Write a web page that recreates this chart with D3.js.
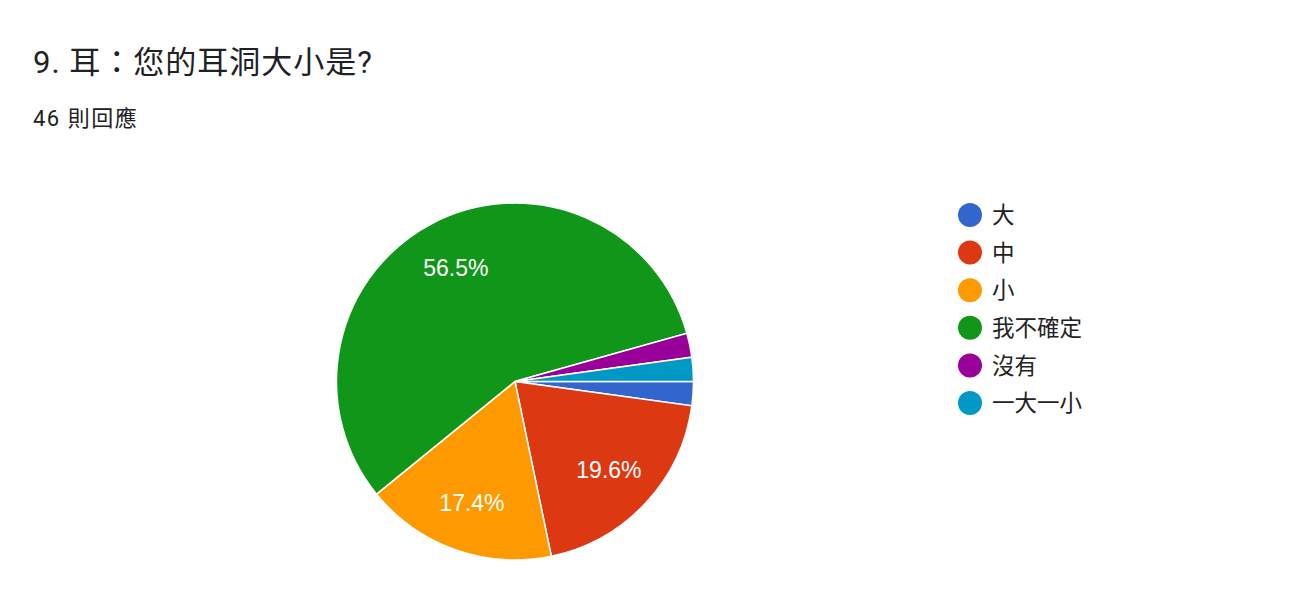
<!DOCTYPE html>
<html><head><meta charset="utf-8">
<script src="https://cdn.jsdelivr.net/npm/d3@7"></script>
<style>
body{margin:0;background:#fff;}
svg{display:block;}
</style></head>
<body>
<svg id="c" width="1297" height="606"></svg>
<script>
const categories = ["大","中","小","我不確定","沒有","一大一小"];
const counts = [1,9,8,26,1,1];
const colors = ["#3366cc","#dc3912","#ff9900","#109618","#990099","#0099c6"];
const title = "9. 耳：您的耳洞大小是?";
const subtitle = "46 則回應";

const svg = d3.select("#c");
const font = "Roboto, 'Noto Sans CJK TC', sans-serif";
svg.append("text").attr("x",33).attr("y",73).attr("font-family",font).attr("font-size",31).attr("letter-spacing",1).attr("fill","#202124").text(title);
svg.append("text").attr("x",33).attr("y",126).attr("font-family",font).attr("font-size",22).attr("letter-spacing",1.5).attr("fill","#202124").attr("xml:space","preserve").text(subtitle);

const cx=515, cy=381.5, R=178.5;
const total = d3.sum(counts);
const data = categories.map((c,i)=>({cat:c,v:counts[i],col:colors[i]}));
const pie = d3.pie().value(d=>d.v).sort(null).startAngle(Math.PI/2).endAngle(Math.PI/2+2*Math.PI);
const arcs = pie(data);
const arc = d3.arc().innerRadius(0).outerRadius(R);
const labelArc = d3.arc().innerRadius(R*0.72).outerRadius(R*0.72);
const g = svg.append("g").attr("transform",`translate(${cx},${cy})`);
g.selectAll("path").data(arcs).join("path").attr("d",arc).attr("fill",d=>d.data.col).attr("stroke","#fff").attr("stroke-width",1.5);
g.selectAll("text").data(arcs.filter(d=>d.data.v/total>0.05)).join("text")
 .attr("transform",d=>`translate(${labelArc.centroid(d)})`)
 .attr("text-anchor","middle").attr("dy","0.36em")
 .attr("font-family","Arial, 'Liberation Sans', sans-serif").attr("font-size",23).attr("fill","#fff")
 .text(d=>d3.format(".1%")(d.data.v/total));

const lg = svg.append("g");
const rows = lg.selectAll("g").data(data).join("g").attr("transform",(d,i)=>`translate(970,${215+i*37.6})`);
rows.append("circle").attr("r",12).attr("fill",d=>d.col);
rows.append("text").attr("x",22).attr("dy","0.36em").attr("font-family",font).attr("font-size",22.5).attr("fill","#222").text(d=>d.cat);
</script>
</body></html>
